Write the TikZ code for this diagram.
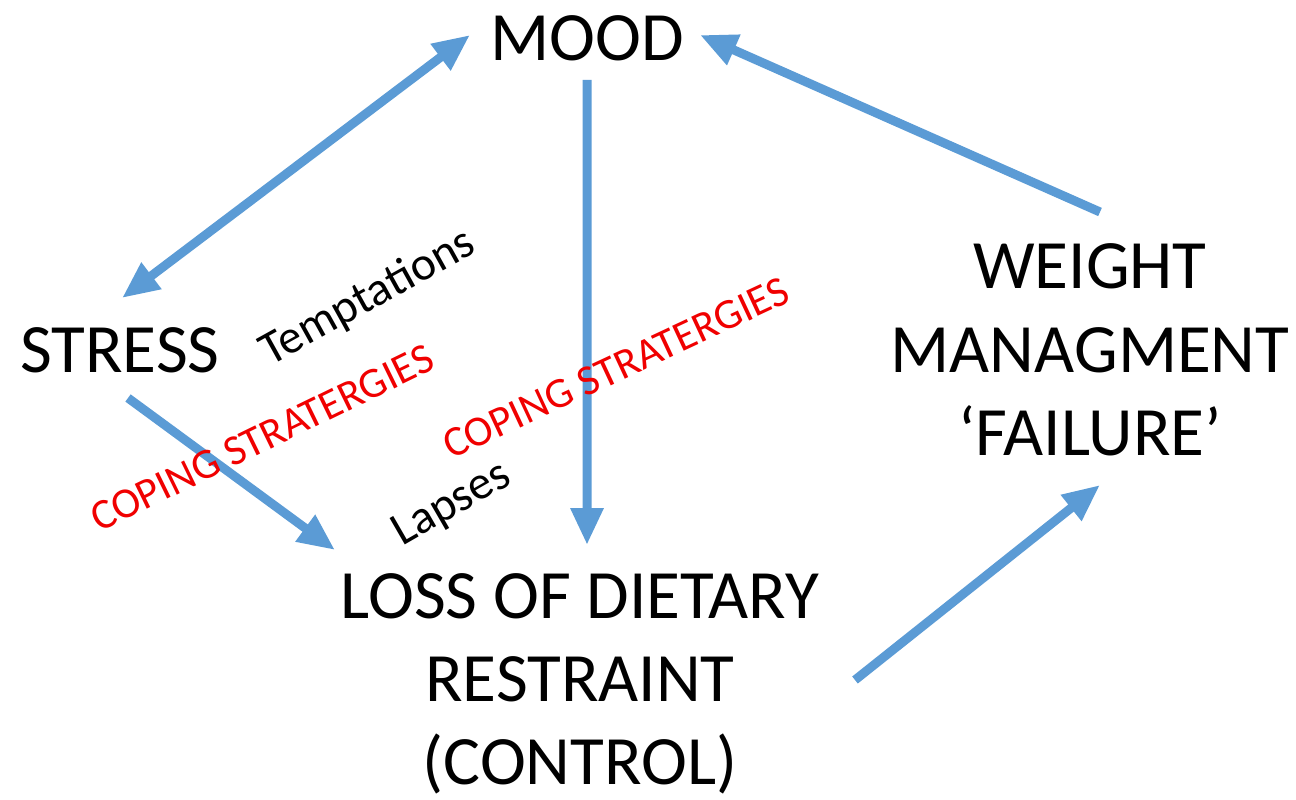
\documentclass[tikz,border=0pt]{standalone}
\usepackage{fontspec}
\setmainfont{Carlito}
\usetikzlibrary{calc}
\usetikzlibrary{arrows.meta}
\definecolor{flowblue}{HTML}{5B9BD5}
\definecolor{copered}{HTML}{F00000}

\begin{document}
\begin{tikzpicture}[
	box/.style={align=center, font=\fontsize{19.7}{23.7}\selectfont},
	flow/.style={draw=flowblue, line width=0.09cm, -{Triangle[length=0.37cm, width=0.31cm]}},
	note/.style={font=\fontsize{13.5}{16}\selectfont},
	coping/.style={text=copered, font=\fontsize{12.2}{14}\selectfont}]
	% page: 1296 x 799 px, 1 px = 0.01 cm
	\useasboundingbox (0, 0) rectangle (12.96, 7.99);
	
	% boxes
	\node[box] (mood) at (5.87, 7.61) {MOOD};
	\node[box] (stress) at (1.20, 4.49) {STRESS};
	\node[box] (weight) at (10.90, 4.49) {WEIGHT\\MANAGMENT\\`FAILURE'};
	\node[box] (loss) at (5.80, 1.15) {LOSS OF DIETARY\\RESTRAINT\\(CONTROL)};
	
	% arrows
	\draw[flow, {Triangle[length=0.37cm, width=0.31cm]}-{Triangle[length=0.37cm, width=0.31cm]}] ($(stress)+(0.02, 0.52)$) -- ($(mood)+(-1.17, 0.03)$);
	\draw[flow] ($(mood)+(0, -0.42)$) -- ($(loss)+(0.07, 1.39)$);
	\draw[flow] ($(stress)+(0.08, -0.48)$) -- ($(loss)+(-2.45, 1.34)$);
	\draw[flow] ($(loss)+(2.75, 0.04)$) -- ($(weight)+(0.10, -1.35)$);
	\draw[flow] ($(weight)+(0.10, 1.38)$) -- ($(mood)+(1.13, 0.03)$);
	
	% slanted labels
	\node[note, rotate=29] (tempt) at (3.68, 5.01) {Temptations};
	\node[note, rotate=30] (lapses) at (4.52, 2.94) {Lapses};
	\node[coping, rotate=26] (copeleft) at (2.62, 3.61) {COPING STRATERGIES};
	\node[coping, rotate=25] (copemid) at (6.16, 4.31) {COPING STRATERGIES};
	
\end{tikzpicture}
\end{document}
